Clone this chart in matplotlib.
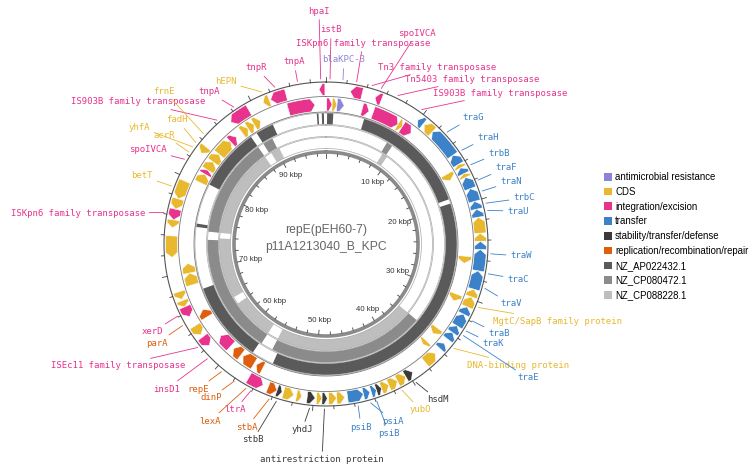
import numpy as np
import matplotlib.pyplot as plt
from matplotlib.patches import Patch

W, H = 752, 472
L = 97.5  # plasmid length, kbp

categories = ['antimicrobial resistance', 'CDS', 'integration/excision', 'transfer',
              'stability/transfer/defense', 'replication/recombination/repair']
cat_colors = ['#8C84D6', '#E8B92E', '#E8338D', '#3B82C8', '#3A3A3A', '#DD5F0E']
ref_names = ['NZ_AP022432.1', 'NZ_CP080472.1', 'NZ_CP088228.1']
ref_colors = ['#5A5A5A', '#8B8B8B', '#BEBEBE']

# outer track: minus strand features (kbp); category index
out_start = [96.80, 2.44, 5.01, 9.89, 10.70, 11.78, 14.90, 15.98, 16.39, 17.06, 17.47, 18.69, 20.04, 20.85,
             21.67, 23.29, 24.10, 24.92, 27.08, 28.98, 29.79, 30.88, 31.69, 33.04, 33.85, 35.21, 36.56,
             39.54, 40.35, 41.30, 42.25, 43.06, 43.60, 44.28, 44.96, 46.85, 47.67, 48.61, 49.15, 49.83,
             51.19, 52.00, 53.22, 53.76, 55.25, 62.02, 63.38, 65.54, 66.63, 67.44, 71.77, 74.75, 75.56,
             76.65, 77.73, 82.88, 87.21, 91.00, 91.81]
out_end = [97.39, 3.66, 5.69, 10.56, 11.78, 14.90, 15.98, 16.39, 17.06, 17.47, 18.69, 20.04, 20.85, 21.67,
           23.29, 24.10, 24.92, 27.08, 28.98, 29.79, 30.88, 31.69, 33.04, 33.85, 34.67, 35.89, 37.92,
           40.35, 41.30, 42.25, 43.06, 43.60, 44.15, 44.96, 46.58, 47.67, 48.48, 49.15, 49.70, 50.65,
           51.73, 53.08, 53.76, 54.71, 56.88, 63.10, 64.46, 66.63, 67.30, 68.25, 73.94, 75.56, 76.65,
           77.73, 79.63, 83.69, 89.38, 91.67, 93.44]
out_cat = [2, 2, 2, 3, 1, 3, 3, 1, 3, 1, 3, 3, 3, 3,
           1, 1, 3, 3, 3, 1, 1, 3, 3, 3, 3, 3, 1,
           4, 1, 1, 1, 4, 3, 3, 3, 1, 1, 4, 1, 4,
           1, 1, 4, 5, 2, 2, 1, 2, 1, 1, 1, 1, 2,
           1, 1, 1, 2, 1, 2]

# inner track: plus strand features (kbp)
in_start = [93.27, 0.08, 0.68, 1.22, 4.06, 5.34, 8.40, 8.94, 16.25, 25.73, 30.06, 34.40, 36.29,
            56.06, 57.15, 58.90, 60.40, 64.59, 68.52, 69.87, 80.17, 81.25, 81.79, 82.88, 83.96,
            85.85, 87.48, 88.29, 89.10]
in_end = [96.28, 0.68, 1.22, 2.03, 4.87, 8.40, 8.94, 10.16, 17.06, 26.54, 30.88, 35.21, 36.83,
          56.88, 58.63, 59.99, 62.02, 65.54, 69.87, 70.96, 81.25, 81.79, 82.88, 83.96, 85.85,
          86.67, 88.29, 89.10, 89.92]
in_cat = [2, 2, 1, 0, 2, 2, 1, 2, 1, 1, 1, 1, 1,
          5, 5, 5, 2, 5, 1, 1, 1, 2, 1, 1, 1,
          2, 1, 1, 1]

# BLAST hit segments of each reference plasmid (kbp)
hit_start = [[4.60, 19.50, 57.96, 75.16, 80.44, 88.83, 96.40, 97.00, 0.13],
             [35.21, 57.69, 74.75, 88.83, 8.40],
             [35.21, 57.69, 65.00, 74.75, 89.10, 8.67]]
hit_end = [[18.96, 55.25, 67.71, 75.56, 88.02, 91.00, 96.60, 97.25, 0.87],
           [56.06, 73.67, 88.02, 90.19, 9.21],
           [56.06, 63.92, 73.94, 88.02, 90.46, 9.48]]

# gene labels: name, position (kbp), category
lab_name = ['hpaI', 'istB', 'ISKpn6 family transposase', 'blaKPC-3', 'spoIVCA', 'Tn3 family transposase',
            'Tn5403 family transposase', 'IS903B family transposase', 'traG', 'traH', 'trbB', 'traF',
            'traN', 'trbC', 'traU', 'traW', 'traC', 'traV', 'MgtC/SapB family protein', 'traB', 'traK',
            'DNA-binding protein', 'traE', 'hsdM', 'yubO', 'psiB', 'psiA', 'psiB',
            'antirestriction protein', 'yhdJ', 'stbB', 'stbA', 'ltrA', 'lexA', 'dinP', 'repE', 'insD1',
            'ISEc11 family transposase', 'parA', 'xerD', 'ISKpn6 family transposase', 'betT', 'spoIVCA',
            'acrR', 'yhfA', 'fadH', 'IS903B family transposase', 'frnE', 'tnpA', 'hEPN', 'tnpR', 'tnpA']
lab_pos = [97.0, 0.38, 2.9, 1.6, 5.3, 4.4, 7.0, 9.6, 12.8, 15.0, 16.6, 18.2, 19.3, 20.5, 21.2, 25.3,
           27.2, 28.6, 30.5, 31.9, 33.0, 35.0, 33.5, 39.8, 41.3, 45.7, 44.5, 43.9, 48.9, 50.3, 53.5,
           54.2, 56.1, 56.6, 57.9, 59.4, 61.2, 62.6, 65.1, 66.1, 76.1, 78.7, 81.5, 82.3, 82.9, 83.4,
           86.3, 84.5, 88.3, 91.3, 92.6, 94.8]
lab_cat = [2, 2, 2, 0, 2, 2, 2, 2, 3, 3, 3, 3, 3, 3, 3, 3, 3, 3, 1, 3, 3, 1, 3, 4, 1, 3, 3, 3, 4, 4, 4,
           5, 2, 5, 5, 5, 2, 2, 5, 2, 2, 1, 2, 1, 1, 1, 2, 1, 2, 1, 2, 2]

# label text placement (pixels from top-left)
lab_xy = [(319, 11, 'center'), (331, 30, 'center'), (363, 43, 'center'), (344, 60, 'center'),
          (417, 33, 'center'), (378, 67, 'left'), (405, 79, 'left'), (433, 93, 'left'),
          (462, 117, 'left'), (477, 137, 'left'), (488, 153, 'left'), (495, 168, 'left'),
          (500, 182, 'left'), (513, 198, 'left'), (507, 211, 'left'), (510, 256, 'left'),
          (507, 279, 'left'), (500, 304, 'left'), (493, 321, 'left'), (488, 334, 'left'),
          (482, 344, 'left'), (467, 365, 'left'), (517, 378, 'left'), (427, 400, 'left'),
          (410, 410, 'left'), (361, 427, 'center'), (393, 421, 'center'), (389, 433, 'center'),
          (322, 460, 'center'), (302, 430, 'center'), (253, 440, 'center'), (247, 427, 'center'),
          (235, 410, 'center'), (210, 421, 'center'), (211, 398, 'center'), (198, 389, 'center'),
          (180, 389, 'right'), (185, 366, 'right'), (168, 343, 'right'), (163, 332, 'right'),
          (145, 213, 'right'), (153, 176, 'right'), (167, 150, 'right'), (175, 135, 'right'),
          (150, 127, 'right'), (188, 120, 'right'), (205, 102, 'right'), (175, 91, 'right'),
          (209, 92, 'center'), (226, 82, 'center'), (256, 68, 'center'), (294, 62, 'center')]

cx, cy, RM = 326, 244, 170
R_OUT = 162
R_IN = 92


def th(k):
    return np.asarray(k) / L * 2 * np.pi


def draw_arrow(ax, s, e, r0, r1, strand, color):
    t0, t1 = th(s), th(e)
    head = min(th(0.5), (t1 - t0) * 0.6)
    rm = (r0 + r1) / 2
    if strand > 0:
        ts = np.linspace(t0, t1 - head, 30)
        xs = np.concatenate([ts, [t1], ts[::-1]])
        rs = np.concatenate([np.full(30, r1), [rm], np.full(30, r0)])
    else:
        ts = np.linspace(t0 + head, t1, 30)
        xs = np.concatenate([[t0], ts, ts[::-1]])
        rs = np.concatenate([[rm], np.full(30, r1), np.full(30, r0)])
    ax.fill(xs, rs, facecolor=color, edgecolor='white', lw=0.4)


def circle(ax, r, color='#999999', lw=0.6):
    t = np.linspace(0, 2 * np.pi, 500)
    ax.plot(t, np.full_like(t, r), color=color, lw=lw)


fig = plt.figure(figsize=(W / 100, H / 100), dpi=100)
ax = fig.add_axes([(cx - RM) / W, (H - cy - RM) / H, 2 * RM / W, 2 * RM / H], projection='polar')
ax.set_theta_zero_location('N')
ax.set_theta_direction(-1)
ax.set_ylim(0, RM)
ax.set_axis_off()

# feature tracks
for s, e, c in zip(out_start, out_end, out_cat):
    draw_arrow(ax, s, e, 148.5, 160.5, -1, cat_colors[c])
for s, e, c in zip(in_start, in_end, in_cat):
    draw_arrow(ax, s, e, 133, 146, 1, cat_colors[c])

# reference rings
ring_r = [(119.5, 131), (107.5, 118.5), (95.5, 106.5)]
for (r0, r1), col, ss, ee in zip(ring_r, ref_colors, hit_start, hit_end):
    ss, ee = np.array(ss), np.array(ee)
    ax.bar(th(ss), r1 - r0, width=th(ee - ss), bottom=r0, align='edge', color=col, edgecolor='none')
    circle(ax, r0, '#aaaaaa', 0.5)
    circle(ax, r1, '#aaaaaa', 0.5)

circle(ax, R_OUT, '#555555', 0.8)
circle(ax, 147.5, '#777777', 0.6)
circle(ax, 132, '#777777', 0.6)
circle(ax, R_IN, '#8a8a8a', 2.6)

# ticks
for k in np.arange(0, L, 2):
    big = k % 10 == 0
    ax.plot([th(k)] * 2, [R_OUT, R_OUT + (5 if big else 3)], color='#444444', lw=0.6)
    ax.plot([th(k)] * 2, [R_IN - 1.5, R_IN - 1.5 - (4 if big else 2.5)], color='#444444', lw=0.6)
for k in range(10, 100, 10):
    ax.text(th(k), 77, f'{k} kbp', ha='center', va='center', fontsize=5.6,
            family='Liberation Sans', color='#333333')

# gene labels
for name, p, c, (x, y, ha) in zip(lab_name, lab_pos, lab_cat, lab_xy):
    col = cat_colors[c]
    ax.annotate(name, xy=(th(p), 165), xytext=(x, H - y), textcoords='figure pixels',
                ha=ha, va='center', fontsize=6.5, family='DejaVu Sans Mono', color=col,
                annotation_clip=False,
                arrowprops=dict(arrowstyle='-', color=col, lw=0.6, shrinkA=1, shrinkB=0))

fig.text(cx / W, 1 - 230 / H, 'repE(pEH60-7)', ha='center', va='center', fontsize=8.7,
         family='Liberation Sans', color='#666666')
fig.text(cx / W, 1 - 247 / H, 'p11A1213040_B_KPC', ha='center', va='center', fontsize=8.7,
         family='Liberation Sans', color='#666666')

handles = [Patch(facecolor=c, edgecolor='none') for c in cat_colors + ref_colors]
fig.legend(handles, categories + ref_names, loc='upper left', bbox_to_anchor=(604 / W, 1 - 172 / H),
           frameon=False, prop={'family': 'Liberation Sans', 'size': 6.9}, handlelength=0.85,
           handleheight=0.85, handletextpad=0.3, labelspacing=0.5, borderaxespad=0, borderpad=0)

fig.savefig('out.png', dpi=100)
